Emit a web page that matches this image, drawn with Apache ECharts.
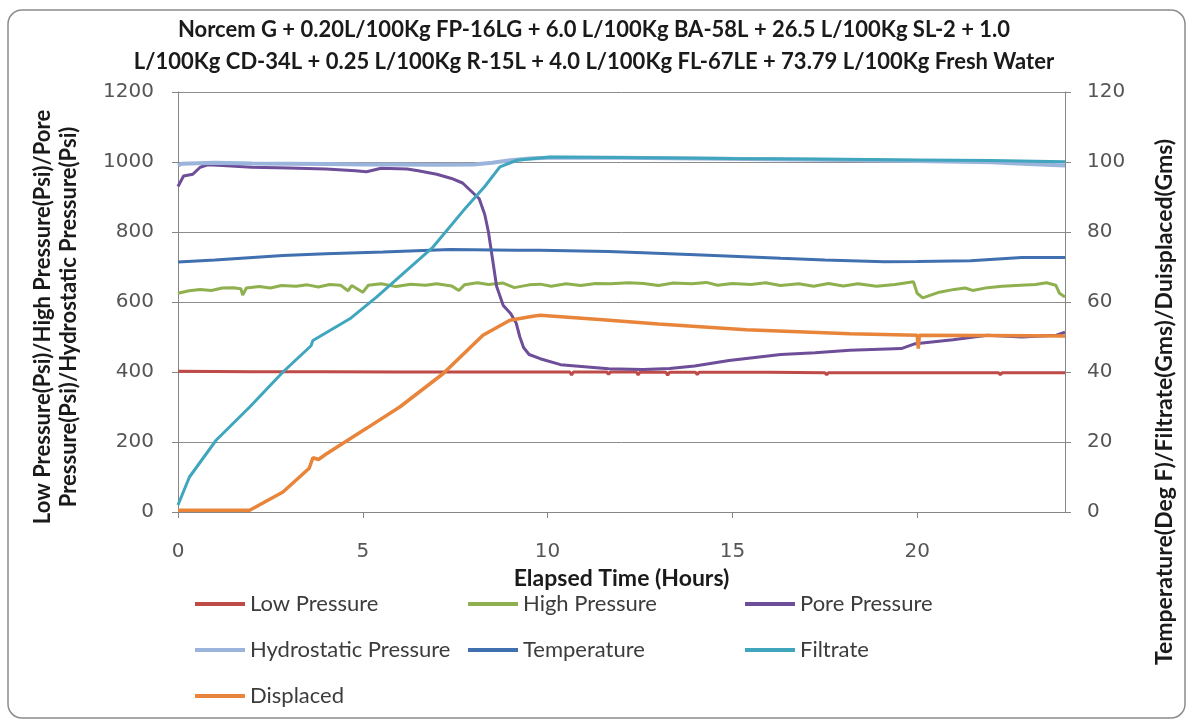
<!DOCTYPE html>
<html>
<head>
<meta charset="utf-8">
<script src="https://cdn.jsdelivr.net/npm/echarts@6/dist/echarts.min.js"></script>
<style>
  html, body { margin: 0; padding: 0; background: #fff; }
  #chart { width: 1188px; height: 724px; }
</style>
</head>
<body>
<div id="chart"></div>
<script>
// [hours, value] pairs
// pressures on the left axis (Psi)
const lowPressure = [[0,402],[2,401],[4,401],[6,400],[8,400],[10,400],[10.6,400],[10.65,392],[10.7,400],[11.6,400],[11.65,393],[11.7,400],[12.4,400],[12.45,392],[12.5,400],[13.2,399],[13.25,391],[13.3,399],[14,399],[14.05,393],[14.1,399],[16,399],[17.5,398],[17.55,392],[17.6,398],[19,398],[21,398],[22.2,398],[22.25,392],[22.3,398],[24,398]];
const highPressure = [[0,625],[0.3,632],[0.6,636],[0.9,633],[1.2,640],[1.5,641],[1.7,638],[1.75,620],[1.85,640],[2.2,644],[2.5,640],[2.8,647],[3.2,645],[3.5,649],[3.8,643],[4.1,650],[4.4,648],[4.6,632],[4.7,647],[5.0,628],[5.15,648],[5.5,652],[5.9,644],[6.3,651],[6.7,648],[7.0,652],[7.4,646],[7.6,633],[7.75,649],[8.1,655],[8.4,650],[8.8,654],[9.1,641],[9.5,649],[9.8,651],[10.1,645],[10.5,652],[10.9,647],[11.3,653],[11.7,652],[12.2,655],[12.6,653],[13.0,647],[13.4,654],[13.9,652],[14.3,656],[14.6,648],[15.0,653],[15.5,650],[15.9,655],[16.3,647],[16.8,652],[17.2,645],[17.6,653],[18.0,646],[18.4,652],[18.9,645],[19.4,650],[19.9,658],[20.0,625],[20.15,612],[20.6,628],[21.0,636],[21.3,640],[21.5,633],[21.9,641],[22.3,645],[22.8,648],[23.2,650],[23.5,655],[23.75,648],[23.85,625],[24,614]];
const porePressure = [[0,930],[0.05,940],[0.15,960],[0.4,965],[0.6,985],[0.8,992],[1.2,990],[2,985],[3,983],[4,980],[4.8,975],[5.1,972],[5.5,982],[6.2,980],[6.5,975],[7,965],[7.4,953],[7.7,940],[7.9,920],[8.15,895],[8.3,850],[8.4,800],[8.5,730],[8.62,645],[8.8,590],[9.0,567],[9.15,540],[9.25,500],[9.35,470],[9.5,450],[9.8,438],[10.35,421],[11.0,415],[11.65,409],[12.58,407],[13.3,410],[13.98,417],[14.91,433],[16.31,450],[17.24,455],[18.18,462],[19.57,467],[19.95,481],[20.97,492],[21.9,505],[22.83,500],[23.77,505],[24,514]];
const hydrostaticPressure = [[0,990],[0.1,995],[1,998],[2,996],[3,995],[4,994],[5,993],[6,993],[7,992],[8,993],[8.5,998],[9,1005],[9.5,1010],[10,1012],[12,1012],[14,1010],[16,1008],[18,1006],[20,1003],[22,999],[23,994],[24,990]];
// right axis (Deg F / Gms)
const temperature = [[0,71.4],[1,72],[2.84,73.3],[4,73.8],[5.55,74.3],[7.36,75],[9.17,74.8],[9.79,74.8],[11.65,74.4],[12.58,74.1],[14,73.5],[16.31,72.5],[17.5,72],[19.11,71.5],[20,71.6],[21.44,71.8],[22.83,72.7],[24,72.7]];
const filtrate = [[0,2],[0.04,2.5],[0.31,10],[1.03,20.5],[1.94,30],[2.84,40],[3.6,47.5],[3.65,49],[4.65,55.2],[5.37,61.4],[6.9,75.7],[7.8,87.1],[8.3,93],[8.71,98.6],[9.17,100.5],[10.07,101.4],[12,101.3],[15,101],[18,100.8],[20,100.6],[22,100.4],[24,100.1]];
const displaced = [[0,0.5],[1,0.5],[1.94,0.5],[2.84,5.7],[3.55,12.5],[3.65,15.5],[3.8,15],[4,16.5],[5.1,23.9],[6,30],[7.17,39.5],[8.25,50.5],[8.98,54.8],[9.6,55.9],[9.8,56.2],[11.4,55],[13,53.7],[15.37,52.1],[18.18,50.9],[20.0,50.5],[20.03,46.7],[20.06,50.5],[22,50.4],[24,50.3]];

const xTicks = [0, 5, 10, 15, 20];
const titleText = 'Norcem G + 0.20L/100Kg FP-16LG + 6.0 L/100Kg BA-58L + 26.5 L/100Kg SL-2 + 1.0\nL/100Kg CD-34L + 0.25 L/100Kg R-15L + 4.0 L/100Kg FL-67LE + 73.79 L/100Kg Fresh Water';

const chart = echarts.init(document.getElementById('chart'));
const legendText = { fontFamily: 'Lato', fontSize: 22, color: '#3c3c3c' };
const labelStyle = { fontFamily: 'DejaVu Sans', fontSize: 20, color: '#555' };
const nameStyle = { fontFamily: 'Lato', fontSize: 22, fontWeight: 'bold', color: '#1a1a1a', lineHeight: 26 };

function line(name, data, color, axis, w) {
  return {
    name: name, type: 'line', data: data, yAxisIndex: axis,
    showSymbol: false, symbol: 'none',
    lineStyle: { color: color, width: w || 3 },
    itemStyle: { color: color }
  };
}

chart.setOption({
  animation: false,
  graphic: [{
    type: 'rect', z: -10,
    shape: { x: 8, y: 10, width: 1177, height: 708, r: 14 },
    style: { fill: 'none', stroke: '#8c8c8c', lineWidth: 1.5 }
  }],
  title: {
    text: titleText, left: 'center', top: 9,
    textStyle: { fontFamily: 'Lato', fontSize: 22, fontWeight: 'bold', color: '#1a1a1a', lineHeight: 32 }
  },
  legend: [
    { orient: 'vertical', left: 190, top: 588, itemGap: 24, itemWidth: 50, itemHeight: 4, icon: 'rect',
      data: ['Low Pressure', 'Hydrostatic Pressure', 'Displaced'], textStyle: legendText },
    { orient: 'vertical', left: 463, top: 588, itemGap: 24, itemWidth: 50, itemHeight: 4, icon: 'rect',
      data: ['High Pressure', 'Temperature'], textStyle: legendText },
    { orient: 'vertical', left: 740, top: 588, itemGap: 24, itemWidth: 50, itemHeight: 4, icon: 'rect',
      data: ['Pore Pressure', 'Filtrate'], textStyle: legendText }
  ],
  grid: { left: 178, right: 123, top: 92, bottom: 212, containLabel: false, outerBoundsMode: 'none' },
  xAxis: {
    type: 'value', min: 0, max: 24, interval: 5,
    name: 'Elapsed Time (Hours)', nameLocation: 'middle', nameGap: 55,
    nameTextStyle: { fontFamily: 'Lato', fontSize: 23, fontWeight: 'bold', color: '#1a1a1a' },
    axisLine: { lineStyle: { color: '#868686' } },
    axisTick: { length: 6, customValues: xTicks, lineStyle: { color: '#868686' } },
    axisLabel: Object.assign({ margin: 30, customValues: xTicks }, labelStyle),
    splitLine: { show: false }
  },
  yAxis: [{
    type: 'value', min: 0, max: 1200, interval: 200, position: 'left',
    name: 'Low Pressure(Psi)/High Pressure(Psi)/Pore\nPressure(Psi)/Hydrostatic Pressure(Psi)',
    nameLocation: 'middle', nameGap: 96,
    nameTextStyle: Object.assign({}, nameStyle, { padding: [0, 30, 0, 0] }),
    axisLine: { show: true, lineStyle: { color: '#868686' } },
    axisTick: { show: true, length: 6, lineStyle: { color: '#868686' } },
    axisLabel: Object.assign({ margin: 24, formatter: v => String(v) }, labelStyle),
    splitLine: { lineStyle: { color: '#8c8c8c' } }
  }, {
    type: 'value', min: 0, max: 120, interval: 20, position: 'right',
    name: 'Temperature(Deg F)/Filtrate(Gms)/Duisplaced(Gms)',
    nameLocation: 'middle', nameGap: 87,
    nameTextStyle: Object.assign({}, nameStyle, { fontSize: 23, padding: [0, 200, 0, 0] }),
    axisLine: { show: true, lineStyle: { color: '#868686' } },
    axisTick: { show: true, length: 6, lineStyle: { color: '#868686' } },
    axisLabel: Object.assign({ margin: 22 }, labelStyle),
    splitLine: { show: false }
  }],
  series: [
    line('Low Pressure', lowPressure, '#BE4B48', 0),
    line('High Pressure', highPressure, '#8FB04E', 0),
    line('Pore Pressure', porePressure, '#6E4E98', 0),
    line('Hydrostatic Pressure', hydrostaticPressure, '#9AB4DC', 0, 4),
    line('Temperature', temperature, '#4070B0', 1),
    line('Filtrate', filtrate, '#3FA6BE', 1),
    line('Displaced', displaced, '#E8853A', 1, 3.5)
  ]
});
</script>
</body>
</html>
